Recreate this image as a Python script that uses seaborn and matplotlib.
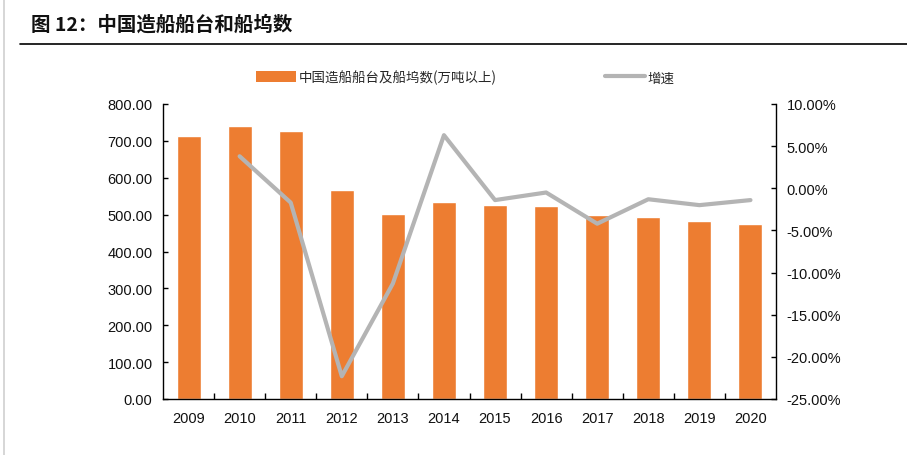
import numpy as np
import pandas as pd
import matplotlib
matplotlib.use("Agg")
import matplotlib.pyplot as plt
from matplotlib.lines import Line2D
from matplotlib.patches import Patch
from matplotlib.ticker import FuncFormatter, FixedLocator
import seaborn as sns

years = ["2009", "2010", "2011", "2012", "2013", "2014", "2015", "2016", "2017", "2018", "2019", "2020"]
capacity = [713, 740, 727, 567, 502, 534, 526, 523, 500, 494, 483, 475]
growth = [np.nan, 3.8, -1.7, -22.3, -11.3, 6.3, -1.4, -0.5, -4.2, -1.3, -2.0, -1.4]
bar_label = "中国造船船台及船坞数(万吨以上)"
line_label = "增速"
title = "图 12：中国造船船台和船坞数"

sns.set_theme(style="white")
plt.rcParams['font.family'] = ['Liberation Sans', 'Noto Sans CJK SC', 'DejaVu Sans']

bar_color = "#ED7D31"
line_color = "#B4B4B4"

df = pd.DataFrame({"year": years, "capacity": capacity, "growth": growth,
                   "pos": np.arange(len(years))})

fig = plt.figure(figsize=(9.07, 4.56), dpi=100)
ax = fig.add_axes([163/907, 1-400/456, (776-163)/907, (400-105)/456])

sns.barplot(data=df, x="year", y="capacity", color=bar_color, width=0.47,
            saturation=1, ax=ax, order=years)
ax.set_xlim(-0.5, len(years)-0.5)
ax.set_ylim(0, 800)
ax.set_yticks(np.arange(0, 801, 100))
ax.yaxis.set_major_formatter(FuncFormatter(lambda v, p: f"{v:.2f}"))
ax.set_xlabel("")
ax.set_ylabel("")

ax2 = ax.twinx()
sns.lineplot(data=df, x="pos", y="growth", color=line_color, linewidth=3,
             ax=ax2, legend=False)
ax2.set_ylim(-25, 10)
ax2.set_yticks(np.arange(-25, 10.1, 5))
ax2.yaxis.set_major_formatter(FuncFormatter(lambda v, p: f"{v:.2f}%"))
ax2.set_xlim(-0.5, len(years)-0.5)
ax2.set_xlabel("")
ax2.set_ylabel("")

for a in (ax, ax2):
    for s in a.spines.values():
        s.set_color("black")
        s.set_linewidth(1.0)
    a.spines["top"].set_visible(False)
ax.spines["right"].set_visible(False)
ax2.spines["left"].set_visible(False)
ax2.spines["bottom"].set_visible(False)

ax.tick_params(axis="y", direction="in", length=3.5, width=1.0, color="black",
               labelsize=10.5, labelcolor="#111111", pad=7.5, left=True)
ax2.tick_params(axis="y", direction="in", length=3.5, width=1.0, color="black",
                labelsize=10.5, labelcolor="#111111", pad=7.5, right=True)
ax.tick_params(axis="x", which="major", length=0, labelsize=10.5,
               labelcolor="#111111", pad=9)
ax.xaxis.set_minor_locator(FixedLocator(np.arange(0.5, len(years)-1, 1)))
ax.tick_params(axis="x", which="minor", direction="in", length=4, width=1.0,
               color="black", bottom=True)
ax2.tick_params(axis="x", which="both", length=0, labelbottom=False)

handles = [Patch(facecolor=bar_color, edgecolor="none", label=bar_label),
           Line2D([0], [0], color=line_color, linewidth=3, label=line_label)]
fig.legend(handles=handles, loc="center", bbox_to_anchor=(0.513, 1-78/456),
           ncol=2, frameon=False, handlelength=3.0, handleheight=0.9,
           columnspacing=8.0, handletextpad=0.2,
           prop={'family': ['Noto Sans CJK SC', 'DejaVu Sans'], 'size': 9.7})

fig.text(31/907, 1-25/456, title, fontsize=14, fontweight="bold",
         family=['Noto Sans CJK SC', 'DejaVu Sans'], va="center", ha="left",
         color="#111111")
fig.add_artist(Line2D([20/907, 1.0], [1-45/456, 1-45/456], transform=fig.transFigure,
                      color="black", linewidth=1.2))
fig.add_artist(Line2D([4/907, 4/907], [0, 1], transform=fig.transFigure,
                      color="#D0D0D0", linewidth=1.2))

fig.savefig("out.png", dpi=100)
